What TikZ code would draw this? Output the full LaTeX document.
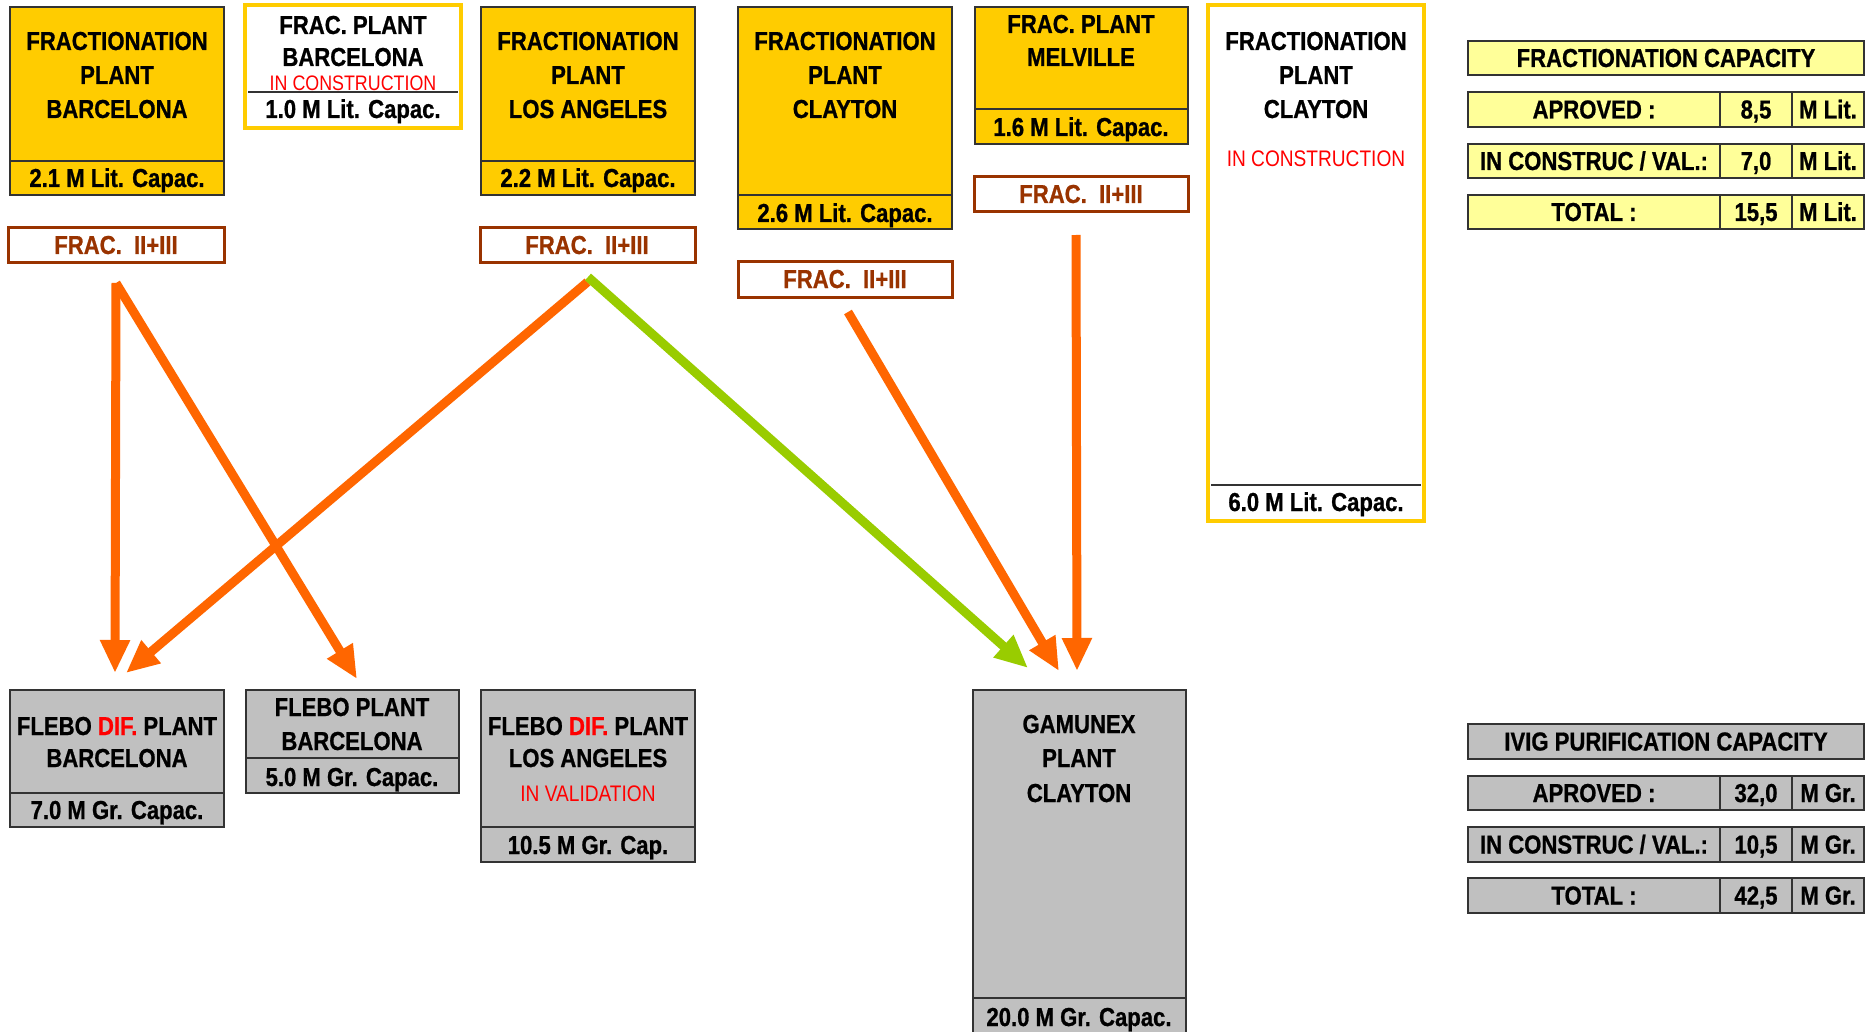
\documentclass[tikz,border=0pt]{standalone}
\usepackage{fontspec}
\setmainfont{Liberation Sans}[FakeStretch=0.85,BoldFeatures={FakeBold=0.8}]
\usetikzlibrary{arrows.meta,calc,fit}
\definecolor{fyel}{HTML}{FFCC00}
\definecolor{lyel}{HTML}{FFFF99}
\definecolor{gry}{HTML}{C0C0C0}
\definecolor{brn}{HTML}{993300}
\definecolor{org}{HTML}{FF6600}
\definecolor{grn}{HTML}{99CC00}
\definecolor{rd}{HTML}{FF0000}
\definecolor{edgec}{HTML}{333333}
\begin{document}
\begin{tikzpicture}[x=1pt,y=-1pt,
  bx/.style={inner sep=0pt, outer sep=0pt, line width=1.5pt, draw=edgec},
  ybx/.style={bx, fill=fyel},
  gbx/.style={bx, fill=gry},
  wbx/.style={inner sep=0pt, outer sep=0pt, line width=3.5pt, draw=fyel, fill=white},
  fbx/.style={inner sep=0pt, outer sep=0pt, line width=3pt, draw=brn, fill=white},
  tyb/.style={bx, fill=lyel},
  tgb/.style={bx, fill=gry},
  divl/.style={line width=1.2pt, draw=edgec},
  txt/.style={inner sep=0pt, anchor=base, font=\fontsize{26}{30}\selectfont\bfseries},
  btxt/.style={txt, text=brn},
  rtxt/.style={inner sep=0pt, anchor=base, text=rd, font=\fontsize{21}{25}\selectfont},
  rtxtb/.style={inner sep=0pt, anchor=base, text=rd, font=\fontsize{22.5}{26}\selectfont},
  arr/.style={line width=9pt, draw=org, -{Triangle[length=33pt,width=28pt]}},
  garr/.style={arr, draw=grn}
]
\useasboundingbox (0,0) rectangle (1870,1032);
\fill[white] (0,0) rectangle (1870,1032);

% ---------- fractionation plants (top) ----------
\node[ybx, fit={(10,7)(224,161)}] (fpbT) {};
\node[ybx, fit={(10,161)(224,195)}] (fpbB) {};
\node[txt] (fpb1) at (117,50) {FRACTIONATION};
\node[txt] (fpb2) at (117,84) {PLANT};
\node[txt] (fpb3) at (117,118) {BARCELONA};
\node[txt] (fpb4) at (117,187) {2.1 M Lit. Capac.};

\node[wbx, fit={(245,5)(461,128)}] (fpbc) {};
\draw[divl] (248,92) -- (458,92);
\node[txt] (fpbc1) at (353,34) {FRAC. PLANT};
\node[txt] (fpbc2) at (353,66) {BARCELONA};
\node[rtxt] (fpbc3) at (353,90.5) {IN CONSTRUCTION};
\node[txt] (fpbc4) at (353,118) {1.0 M Lit. Capac.};

\node[ybx, fit={(481,7)(695,161)}] (fplaT) {};
\node[ybx, fit={(481,161)(695,195)}] (fplaB) {};
\node[txt] (fpla1) at (588,50) {FRACTIONATION};
\node[txt] (fpla2) at (588,84) {PLANT};
\node[txt] (fpla3) at (588,118) {LOS ANGELES};
\node[txt] (fpla4) at (588,187) {2.2 M Lit. Capac.};

\node[ybx, fit={(738,7)(952,195)}] (fpcT) {};
\node[ybx, fit={(738,195)(952,229)}] (fpcB) {};
\node[txt] (fpc1) at (845,50) {FRACTIONATION};
\node[txt] (fpc2) at (845,84) {PLANT};
\node[txt] (fpc3) at (845,118) {CLAYTON};
\node[txt] (fpc4) at (845,222) {2.6 M Lit. Capac.};

\node[ybx, fit={(975,7)(1188,109)}] (fpmT) {};
\node[ybx, fit={(975,109)(1188,144)}] (fpmB) {};
\node[txt] (fpm1) at (1081,33) {FRAC. PLANT};
\node[txt] (fpm2) at (1081,66) {MELVILLE};
\node[txt] (fpm3) at (1081,136) {1.6 M Lit. Capac.};

\node[wbx, fit={(1208,5)(1424,521)}] (fpcc) {};
\draw[divl] (1211,485) -- (1421,485);
\node[txt] (fpcc1) at (1316,50) {FRACTIONATION};
\node[txt] (fpcc2) at (1316,84) {PLANT};
\node[txt] (fpcc3) at (1316,118) {CLAYTON};
\node[rtxtb] (fpcc4) at (1316,167) {IN CONSTRUCTION};
\node[txt] (fpcc5) at (1316,511) {6.0 M Lit. Capac.};

% ---------- FRAC II+III labels ----------
\node[fbx, fit={(8,228)(224,263)}] (fr1) {};
\node[btxt] (fr1t) at (116,254) {FRAC.\ \ II+III};
\node[fbx, fit={(480,228)(695,263)}] (fr2) {};
\node[btxt] (fr2t) at (587,254) {FRAC.\ \ II+III};
\node[fbx, fit={(738,262)(952,297)}] (fr3) {};
\node[btxt] (fr3t) at (845,288) {FRAC.\ \ II+III};
\node[fbx, fit={(974,177)(1188,212)}] (fr4) {};
\node[btxt] (fr4t) at (1081,203) {FRAC.\ \ II+III};

% ---------- purification plants (bottom) ----------
\node[gbx, fit={(10,690)(224,793)}] (g1T) {};
\node[gbx, fit={(10,793)(224,827)}] (g1B) {};
\node[txt] (g1a) at (117,735) {FLEBO \textcolor{rd}{DIF.} PLANT};
\node[txt] (g1b) at (117,767) {BARCELONA};
\node[txt] (g1c) at (117,819) {7.0 M Gr. Capac.};

\node[gbx, fit={(246,690)(459,758)}] (g2T) {};
\node[gbx, fit={(246,758)(459,793)}] (g2B) {};
\node[txt] (g2a) at (352,716) {FLEBO PLANT};
\node[txt] (g2b) at (352,750) {BARCELONA};
\node[txt] (g2c) at (352,786) {5.0 M Gr. Capac.};

\node[gbx, fit={(481,690)(695,827)}] (g3T) {};
\node[gbx, fit={(481,827)(695,862)}] (g3B) {};
\node[txt] (g3a) at (588,735) {FLEBO \textcolor{rd}{DIF.} PLANT};
\node[txt] (g3b) at (588,767) {LOS ANGELES};
\node[rtxtb] (g3c) at (588,801) {IN VALIDATION};
\node[txt] (g3d) at (588,854) {10.5 M Gr. Cap.};

\node[gbx, fit={(973,690)(1186,998)}] (g4T) {};
\node[gbx, fit={(973,998)(1186,1036)}] (g4B) {};
\node[txt] (g4a) at (1079,733) {GAMUNEX};
\node[txt] (g4b) at (1079,767) {PLANT};
\node[txt] (g4c) at (1079,802) {CLAYTON};
\node[txt] (g4d) at (1079,1026) {20.0 M Gr. Capac.};

% ---------- fractionation capacity table ----------
\node[tyb, fit={(1468,41)(1864,75)}] (fch) {};
\node[txt] (fcht) at (1666,67) {FRACTIONATION CAPACITY};
\node[tyb, fit={(1468,92)(1720,127)}] (fc1a) {};
\node[tyb, fit={(1720,92)(1792,127)}] (fc1b) {};
\node[tyb, fit={(1792,92)(1864,127)}] (fc1c) {};
\node[txt] (fc1at) at (1594,118.5) {APROVED :};
\node[txt] (fc1bt) at (1756,118.5) {8,5};
\node[txt] (fc1ct) at (1828,118.5) {M Lit.};
\node[tyb, fit={(1468,144)(1720,178)}] (fc2a) {};
\node[tyb, fit={(1720,144)(1792,178)}] (fc2b) {};
\node[tyb, fit={(1792,144)(1864,178)}] (fc2c) {};
\node[txt] (fc2at) at (1594,170) {IN CONSTRUC / VAL.:};
\node[txt] (fc2bt) at (1756,170) {7,0};
\node[txt] (fc2ct) at (1828,170) {M Lit.};
\node[tyb, fit={(1468,195)(1720,229)}] (fc3a) {};
\node[tyb, fit={(1720,195)(1792,229)}] (fc3b) {};
\node[tyb, fit={(1792,195)(1864,229)}] (fc3c) {};
\node[txt] (fc3at) at (1594,221) {TOTAL :};
\node[txt] (fc3bt) at (1756,221) {15,5};
\node[txt] (fc3ct) at (1828,221) {M Lit.};

% ---------- IVIG purification capacity table ----------
\node[tgb, fit={(1468,724)(1864,759)}] (ich) {};
\node[txt] (icht) at (1666,750.5) {IVIG PURIFICATION CAPACITY};
\node[tgb, fit={(1468,776)(1720,810)}] (ic1a) {};
\node[tgb, fit={(1720,776)(1792,810)}] (ic1b) {};
\node[tgb, fit={(1792,776)(1864,810)}] (ic1c) {};
\node[txt] (ic1at) at (1594,802) {APROVED :};
\node[txt] (ic1bt) at (1756,802) {32,0};
\node[txt] (ic1ct) at (1828,802) {M Gr.};
\node[tgb, fit={(1468,827)(1720,862)}] (ic2a) {};
\node[tgb, fit={(1720,827)(1792,862)}] (ic2b) {};
\node[tgb, fit={(1792,827)(1864,862)}] (ic2c) {};
\node[txt] (ic2at) at (1594,853.5) {IN CONSTRUC / VAL.:};
\node[txt] (ic2bt) at (1756,853.5) {10,5};
\node[txt] (ic2ct) at (1828,853.5) {M Gr.};
\node[tgb, fit={(1468,878)(1720,913)}] (ic3a) {};
\node[tgb, fit={(1720,878)(1792,913)}] (ic3b) {};
\node[tgb, fit={(1792,878)(1864,913)}] (ic3c) {};
\node[txt] (ic3at) at (1594,904.5) {TOTAL :};
\node[txt] (ic3bt) at (1756,904.5) {42,5};
\node[txt] (ic3ct) at (1828,904.5) {M Gr.};

% ---------- connectors ----------
\draw[arr] ($(fr1.south)+(0,20)$) -- ($(g1T.north)+(-2,-17)$);
\draw[arr] ($(fr1.south)+(0,20)$) -- ($(g2T.north)+(4.5,-11)$);
\draw[arr] ($(fr2.south)+(0,19)$) -- ($(g1T.north)+(9,-17)$);
\draw[arr] ($(fr3.south)+(3,15)$) -- ($(g4T.north)+(-20.5,-19)$);
\draw[arr] ($(fr4.south)+(-5,23)$) -- ($(g4T.north)+(-2.5,-19)$);
\draw[garr] ($(fr2.south)+(0.5,14)$) -- ($(g4T.north)+(-51.5,-22)$);
\end{tikzpicture}
\end{document}
